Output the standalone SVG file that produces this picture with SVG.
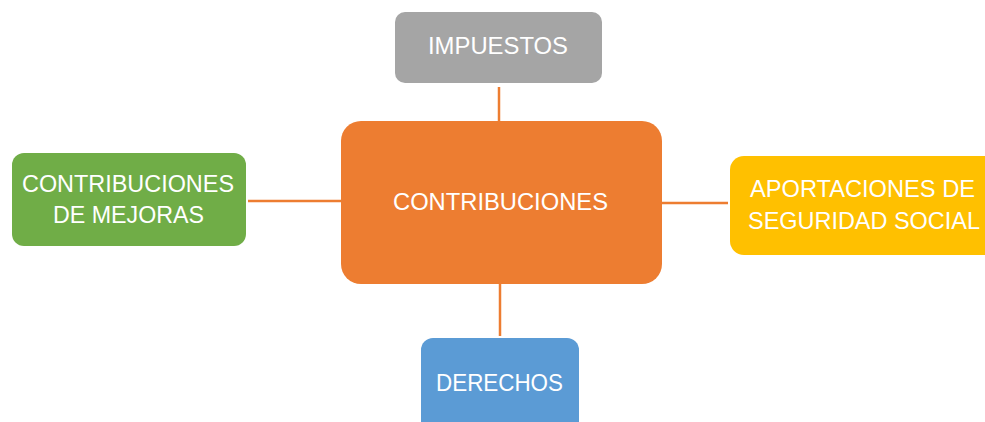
<svg xmlns="http://www.w3.org/2000/svg" width="985" height="422" viewBox="0 0 985 422">
<style>
.t{font-family:"Liberation Sans","Open Sans",sans-serif;font-size:24px;fill:#fff;text-anchor:middle}
.c{stroke:#ED7D31;stroke-width:2.5;fill:none}
</style>
<rect width="985" height="422" fill="#fff"/>
<g id="connectors">
<line class="c" x1="499" y1="87" x2="499" y2="121"/>
<line class="c" x1="248" y1="201" x2="341" y2="201"/>
<line class="c" x1="662" y1="203" x2="728" y2="203"/>
<line class="c" x1="500" y1="284" x2="500" y2="336"/>
</g>
<g id="impuestos">
<rect x="395" y="12" width="207" height="71" rx="10" fill="#A5A5A5"/>
<text class="t" x="498" y="54" textLength="140" lengthAdjust="spacingAndGlyphs">IMPUESTOS</text>
</g>
<g id="contribuciones">
<rect x="341" y="121" width="321" height="163" rx="20" fill="#ED7D31"/>
<text class="t" x="500.5" y="210" textLength="215" lengthAdjust="spacingAndGlyphs">CONTRIBUCIONES</text>
</g>
<g id="mejoras">
<rect x="12" y="153" width="234" height="93" rx="12" fill="#70AD47"/>
<text class="t" x="128" y="192" textLength="212" lengthAdjust="spacingAndGlyphs">CONTRIBUCIONES</text>
<text class="t" x="128.5" y="223" textLength="151" lengthAdjust="spacingAndGlyphs">DE MEJORAS</text>
</g>
<g id="aportaciones">
<rect x="730" y="156" width="270" height="99" rx="14" fill="#FFC000"/>
<text class="t" x="862.5" y="197" textLength="225" lengthAdjust="spacingAndGlyphs">APORTACIONES DE</text>
<text class="t" x="864" y="229" textLength="232" lengthAdjust="spacingAndGlyphs">SEGURIDAD SOCIAL</text>
</g>
<g id="derechos">
<rect x="421" y="338" width="158" height="100" rx="12" fill="#5B9BD5"/>
<text class="t" x="499.5" y="391" textLength="127" lengthAdjust="spacingAndGlyphs">DERECHOS</text>
</g>
</svg>
